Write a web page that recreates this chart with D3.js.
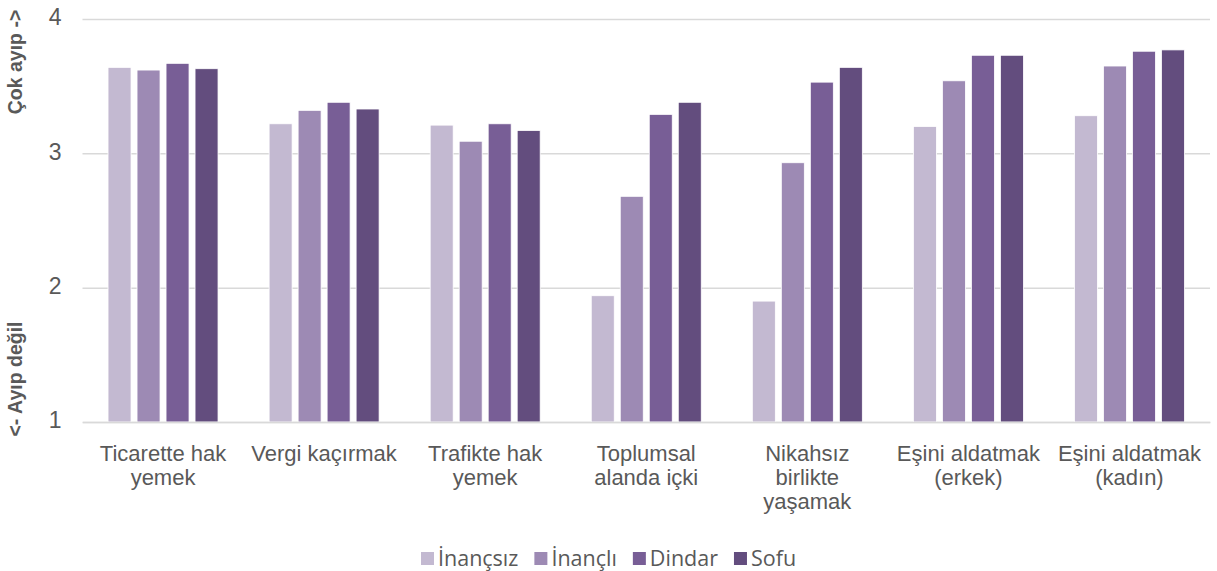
<!DOCTYPE html>
<html>
<head>
<meta charset="utf-8">
<script src="https://cdn.jsdelivr.net/npm/d3@7"></script>
<style>
  html, body { margin: 0; padding: 0; background: #fff; }
  svg { display: block; }
</style>
</head>
<body>
<svg id="chart" width="1217" height="571"></svg>
<script>
// Behaviour ratings by group, scale 1 (not shameful) to 4 (very shameful)
const categories = [
  "Ticarette hak\nyemek",
  "Vergi kaçırmak",
  "Trafikte hak\nyemek",
  "Toplumsal\nalanda içki",
  "Nikahsız\nbirlikte\nyaşamak",
  "Eşini aldatmak\n(erkek)",
  "Eşini aldatmak\n(kadın)"
];
const series = ["İnançsız", "İnançlı", "Dindar", "Sofu"];
const inancsiz = [3.64, 3.22, 3.21, 1.94, 1.90, 3.20, 3.28];
const inancli  = [3.62, 3.32, 3.09, 2.68, 2.93, 3.54, 3.65];
const dindar   = [3.67, 3.38, 3.22, 3.29, 3.53, 3.73, 3.76];
const sofu     = [3.63, 3.33, 3.17, 3.38, 3.64, 3.73, 3.77];
const yTicks = [1, 2, 3, 4];
const colors = ["#c3b9d1", "#9d8ab4", "#785e96", "#634d7e"];

const values = [inancsiz, inancli, dindar, sofu];

const svg = d3.select("#chart");
const textColor = "#595959";
const gridColor = "#d9d9d9";

const plot = { left: 82.5, right: 1210, top: 19, bottom: 422 };

const y = d3.scaleLinear().domain([1, 4]).range([plot.bottom, plot.top]);
const x0 = d3.scaleBand().domain(categories).range([plot.left, plot.right]);
const groupW = 110;
const x1 = d3.scaleBand()
  .domain(series)
  .range([(x0.bandwidth() - groupW) / 2, (x0.bandwidth() + groupW) / 2])
  .paddingInner(0.207);

// Gridlines and value axis labels
const yAxis = d3.axisLeft(y).tickValues(yTicks).tickSize(-(plot.right - plot.left)).tickFormat(d3.format("d"));
const gy = svg.append("g")
  .attr("transform", `translate(${plot.left},0)`)
  .call(yAxis);
gy.select(".domain").remove();
gy.selectAll(".tick line").attr("stroke", gridColor).attr("stroke-width", 1.5);
gy.selectAll(".tick text")
  .attr("fill", textColor)
  .attr("font-family", "'Liberation Sans', Arial, sans-serif")
  .attr("font-size", 23)
  .attr("x", -21)
  .attr("dy", "0.25em");

// Bars
const groups = svg.append("g").selectAll("g")
  .data(categories)
  .join("g")
  .attr("transform", d => `translate(${x0(d)},0)`);

groups.selectAll("rect")
  .data((c, ci) => series.map((s, si) => ({ s, si, v: values[si][ci] })))
  .join("rect")
  .attr("x", d => x1(d.s))
  .attr("width", x1.bandwidth())
  .attr("y", d => y(d.v))
  .attr("height", d => y(1) - y(d.v))
  .attr("fill", d => colors[d.si])
  .attr("stroke", "#ffffff")
  .attr("stroke-width", 0.8);

// Category axis
const gx = svg.append("g")
  .attr("transform", `translate(0,${plot.bottom})`)
  .call(d3.axisBottom(x0).tickSize(0).tickFormat(""));
gx.select(".domain").attr("stroke", gridColor).attr("stroke-width", 1.5);

// Wrapped category labels, one text element per line
const labelLines = categories.flatMap(c =>
  c.split("\n").map((line, i) => ({ c, line, i })));

svg.append("g")
  .attr("font-family", "'Liberation Sans', Arial, sans-serif")
  .attr("font-size", 22)
  .attr("fill", textColor)
  .attr("text-anchor", "middle")
  .selectAll("text")
  .data(labelLines)
  .join("text")
  .attr("x", d => x0(d.c) + x0.bandwidth() / 2)
  .attr("y", d => 461 + d.i * 24)
  .text(d => d.line);

// Axis titles
const titleFont = { family: "'Liberation Sans', Arial, sans-serif", size: 19.5 };
[["Çok ayıp ->", 62], ["<- Ayıp değil", 379]].forEach(([txt, cy]) => {
  svg.append("text")
    .attr("transform", `translate(22,${cy}) rotate(-90)`)
    .attr("text-anchor", "middle")
    .attr("font-family", titleFont.family)
    .attr("font-size", titleFont.size)
    .attr("font-weight", "bold")
    .attr("fill", textColor)
    .text(txt);
});

// Legend
const legend = svg.append("g")
  .attr("font-family", "'Open Sans', sans-serif")
  .attr("font-size", 21.5)
  .attr("fill", textColor);

let lx = 421;
series.forEach((s, i) => {
  const item = legend.append("g").attr("transform", `translate(${lx},552)`);
  item.append("rect").attr("width", 13).attr("height", 13).attr("fill", colors[i]);
  const t = item.append("text").attr("x", 17).attr("y", 13.5).text(s);
  lx += 17 + t.node().getComputedTextLength() + 16;
});
</script>
</body>
</html>
